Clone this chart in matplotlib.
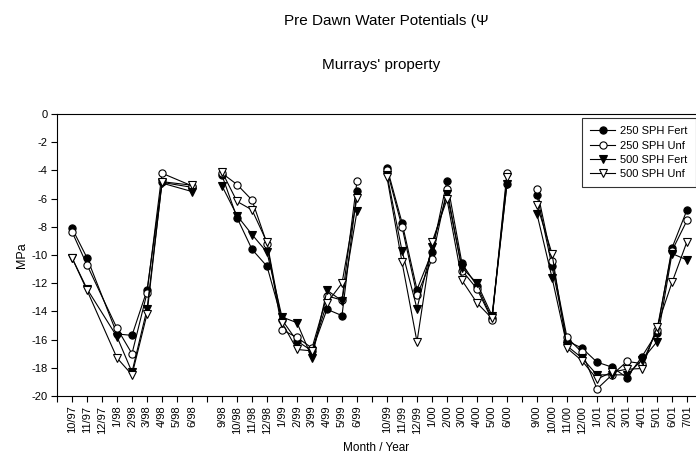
import matplotlib
matplotlib.use("Agg")
import matplotlib.pyplot as plt
import numpy as np

plt.rcParams['font.family'] = ['Liberation Sans', 'DejaVu Sans']

# Category slots ("" = empty slot on the axis)
months = ["10/97", "11/97", "12/97", "1/98", "2/98", "3/98", "4/98", "5/98", "6/98", "",
          "9/98", "10/98", "11/98", "12/98", "1/99", "2/99", "3/99", "4/99", "5/99", "6/99", "",
          "10/99", "11/99", "12/99", "1/00", "2/00", "3/00", "4/00", "5/00", "6/00", "",
          "9/00", "10/00", "11/00", "12/00", "1/01", "2/01", "3/01", "4/01", "5/01", "6/01", "7/01"]

N = None
sph250_fert = [-8.1, -10.2, N, -15.6, -15.7, -12.5, -4.85, N, -5.2, N,
               -4.35, -7.35, -9.6, -10.8, -14.6, -16.1, -16.8, -13.85, -14.3, -5.45, N,
               -3.8, -7.7, -12.45, -9.8, -4.75, -10.6, -12.2, -14.5, -4.95, N,
               -5.75, -10.8, -16.1, -16.6, -17.6, -17.95, -18.7, -17.2, -15.5, -9.5, -6.8]
sph250_unf = [-8.35, -10.7, N, -15.2, -17.0, -12.7, -4.2, N, -5.1, N,
              -4.2, -5.0, -6.1, -9.2, -15.3, -15.85, -16.6, -12.9, -13.2, -4.75, N,
              -4.0, -8.0, -12.85, -10.3, -5.35, -11.1, -12.4, -14.6, -4.15, N,
              -5.35, -10.4, -15.85, -16.9, -19.5, -18.5, -17.55, -17.7, -15.3, -9.7, -7.55]
sph500_fert = [-10.2, -12.4, N, -15.8, -18.3, -13.85, -4.9, N, -5.5, N,
               -5.1, -7.2, -8.55, -9.8, -14.4, -14.8, -17.3, -12.5, -13.25, -6.9, N,
               -4.3, -9.7, -13.8, -9.4, -5.7, -10.9, -12.0, -14.3, -4.95, N,
               -7.1, -11.6, -16.45, -17.3, -18.5, -18.5, -18.5, -17.45, -16.15, -9.9, -10.35]
sph500_unf = [-10.2, -12.5, N, -17.3, -18.5, -14.2, -4.8, N, -5.05, N,
              -4.1, -6.2, -6.8, -9.1, -14.8, -16.7, -16.8, -13.4, -12.0, -5.95, N,
              -4.5, -10.5, -16.15, -9.1, -6.05, -11.8, -13.4, -14.5, -4.5, N,
              -6.45, -9.9, -16.6, -17.5, -18.8, -18.3, -18.1, -18.05, -15.1, -11.95, -9.05]

series = [
    ("250 SPH Fert", sph250_fert, "o", "black"),
    ("250 SPH Unf", sph250_unf, "o", "white"),
    ("500 SPH Fert", sph500_fert, "v", "black"),
    ("500 SPH Unf", sph500_unf, "v", "white"),
]

W, H = 696, 462
fig = plt.figure(figsize=(W / 100, H / 100), dpi=100)
left, right, top, bottom = 57, 696, 114, 396
ax = fig.add_axes([left / W, 1 - bottom / H, (right - left) / W, (bottom - top) / H])

xpos = np.arange(1, len(months) + 1)

# split into seasons at empty slots
bounds = [i for i, m in enumerate(months) if m == ""]
segments = []
start = 0
for b in bounds + [len(months)]:
    segments.append((start, b))
    start = b + 1

for name, vals, mk, fc in series:
    first = True
    for s, e in segments:
        xs = [xpos[i] for i in range(s, e) if vals[i] is not None]
        ys = [vals[i] for i in range(s, e) if vals[i] is not None]
        ax.plot(xs, ys, color="black", lw=0.8, marker=mk, markersize=5.2,
                markerfacecolor=fc, markeredgecolor="black", markeredgewidth=0.8,
                label=name if first else None)
        first = False

ax.set_xlim(0, (right - left) / 15.0)
ax.set_ylim(-20, 0)
ax.set_yticks(np.arange(-20, 1, 2))
ax.set_yticklabels([str(v) for v in range(-20, 1, 2)], fontsize=8)
ax.set_xticks(np.arange(0, len(months) + 1))
ax.set_xticklabels([""] + months, rotation=90, fontsize=8)
ax.tick_params(axis="both", direction="out", length=4, width=0.8, pad=3)
for sp in ax.spines.values():
    sp.set_linewidth(0.8)
ax.spines["right"].set_visible(False)

ax.set_ylabel("MPa", fontsize=9, labelpad=2)
ax.set_xlabel("Month / Year", fontsize=8.5, labelpad=6)

fig.text(386 / W, 1 - 21 / H, "Pre Dawn Water Potentials (\u03a8", ha="center", va="center", fontsize=11)
fig.text(381 / W, 1 - 65 / H, "Murrays' property", ha="center", va="center", fontsize=11)

leg = ax.legend(loc="upper left", bbox_to_anchor=((582 - left) / (right - left), 1 - (118 - top) / (bottom - top)),
                fontsize=8, frameon=True, fancybox=False, edgecolor="black", borderpad=0.75,
                labelspacing=0.38, handlelength=2.2, handletextpad=0.5, borderaxespad=0)
leg.get_frame().set_linewidth(0.8)

fig.savefig("out.png", dpi=100)
